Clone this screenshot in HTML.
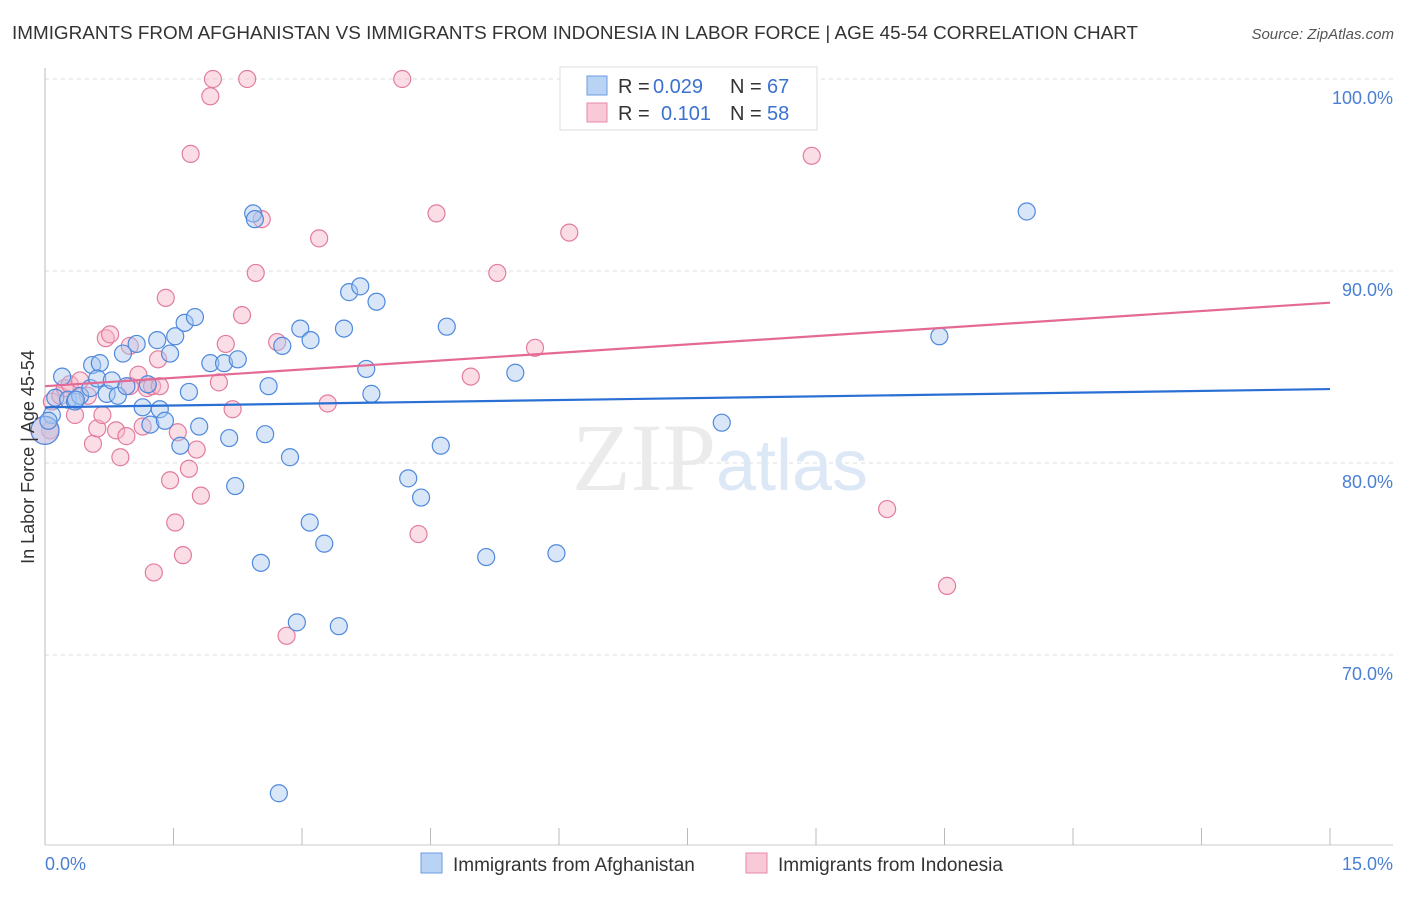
<!DOCTYPE html>
<html><head><meta charset="utf-8"><style>
body{margin:0;background:#fff;font-family:"Liberation Sans",sans-serif;}
</style></head><body>
<svg id="chart" width="1406" height="892" xmlns="http://www.w3.org/2000/svg" font-family="Liberation Sans, sans-serif">
<text x="12" y="39" font-size="18.5" fill="#333" textLength="1126" lengthAdjust="spacingAndGlyphs">IMMIGRANTS FROM AFGHANISTAN VS IMMIGRANTS FROM INDONESIA IN LABOR FORCE | AGE 45-54 CORRELATION CHART</text>
<text x="1394" y="39" font-size="15" fill="#555" text-anchor="end" font-style="italic">Source: ZipAtlas.com</text>
<g id="grid"></g>
<text x="720" y="490" font-size="96" text-anchor="middle" fill="#ebebeb" font-family="Liberation Serif, serif">ZIP<tspan fill="#dde8f6" font-family="Liberation Sans, sans-serif" font-size="72">atlas</tspan></text>
<g id="points"></g>
<g id="lines"></g>
<text transform="translate(34,457) rotate(-90)" font-size="18" fill="#333" text-anchor="middle">In Labor Force | Age 45-54</text>
<text x="45" y="870" font-size="18" fill="#4a7fd4">0.0%</text>
<text x="1393" y="870" font-size="18" fill="#4a7fd4" text-anchor="end">15.0%</text>
<g>
<rect x="560" y="67" width="257" height="63" fill="#fff" stroke="#ddd"/>
<rect x="587" y="76" width="20" height="19" fill="#b9d3f5" stroke="#6a9be0"/>
<rect x="587" y="103" width="20" height="19" fill="#f9c9d8" stroke="#e88aa8"/>
<text x="618" y="93" font-size="20" fill="#333">R =</text>
<text x="653" y="93" font-size="20" fill="#3b72d0">0.029</text>
<text x="730" y="93" font-size="20" fill="#333">N =</text>
<text x="767" y="93" font-size="20" fill="#3b72d0">67</text>
<text x="618" y="120" font-size="20" fill="#333">R =</text>
<text x="661" y="120" font-size="20" fill="#3b72d0">0.101</text>
<text x="730" y="120" font-size="20" fill="#333">N =</text>
<text x="767" y="120" font-size="20" fill="#3b72d0">58</text>
</g>
<g>
<rect x="421" y="853" width="21" height="20" fill="#b9d3f5" stroke="#6a9be0"/>
<text x="453" y="871" font-size="19" fill="#333">Immigrants from Afghanistan</text>
<rect x="746" y="853" width="21" height="20" fill="#f9c9d8" stroke="#e88aa8"/>
<text x="778" y="871" font-size="19" fill="#333">Immigrants from Indonesia</text>
</g>
</svg>
<script>
const blueX=[0.08,0.2,0.12,0.27,0.35,0.41,0.53,0.55,0.64,0.61,0.72,0.78,0.85,0.91,0.95,1.07,1.14,1.2,1.23,1.31,1.34,1.4,1.46,1.52,1.58,1.63,1.68,1.75,1.8,1.93,2.09,2.15,2.22,2.25,2.43,2.45,2.52,2.57,2.61,2.77,2.86,2.94,2.98,3.09,3.1,3.26,3.43,3.49,3.55,3.68,3.75,3.81,3.87,4.24,4.39,4.62,4.69,5.15,5.49,5.97,7.9,10.44,11.46,2.73,0,0.04,0.36];
const blueY=[82.5,84.5,83.4,83.3,83.2,83.5,83.9,85.1,85.2,84.4,83.6,84.3,83.5,85.7,84.0,86.2,82.9,84.1,82.0,86.4,82.8,82.2,85.7,86.6,80.9,87.3,83.7,87.6,81.9,85.2,85.2,81.3,78.8,85.4,93.0,92.7,74.8,81.5,84.0,86.1,80.3,71.7,87.0,76.9,86.4,75.8,71.5,87.0,88.9,89.2,84.9,83.6,88.4,79.2,78.2,80.9,87.1,75.1,84.7,75.3,82.1,86.6,93.1,62.8,81.7,82.2,83.3];
const pinkX=[0.08,0.06,0.18,0.23,0.29,0.35,0.41,0.5,0.56,0.61,0.67,0.71,0.76,0.83,0.88,0.95,0.99,1.09,1.14,1.19,1.25,1.27,1.32,1.41,1.46,1.52,1.55,1.61,1.68,1.7,1.77,1.82,1.93,1.96,2.03,2.11,2.19,2.3,2.36,2.46,2.53,2.71,2.82,3.2,3.3,4.17,4.36,4.57,4.97,5.28,5.72,6.12,8.95,9.83,10.53,0,0.99,1.34];
const pinkY=[83.2,81.7,83.5,83.9,84.1,82.5,84.3,83.5,81.0,81.8,82.5,86.5,86.7,81.7,80.3,81.4,86.1,84.6,81.9,83.9,84.0,74.3,85.4,88.6,79.1,76.9,81.6,75.2,79.7,96.1,80.7,78.3,99.1,100.0,84.2,86.2,82.8,87.7,100.0,89.9,92.7,86.3,71.0,91.7,83.1,100.0,76.3,93.0,84.5,89.9,86.0,92.0,96.0,77.6,73.6,81.7,84.0,84.0];
const axisXMax=15;
const yTicks=[100,90,80,70];
const yTickLabels=["100.0%","90.0%","80.0%","70.0%"];
const blueTrend=[82.9,83.85];
const pinkTrend=[84.0,88.35];
const X0=45,X1=1330;
const sx=v=>X0+v/axisXMax*(X1-X0);
const sy=v=>79+(100-v)*19.2;
const NS="http://www.w3.org/2000/svg";
function mk(t,a,p){const e=document.createElementNS(NS,t);for(const k in a)e.setAttribute(k,a[k]);p.appendChild(e);return e;}
const grid=document.getElementById('grid');
yTicks.forEach((t,i)=>{
 const l=mk('line',{x1:45,x2:1393,y1:sy(t),y2:sy(t),stroke:'#ddd','stroke-dasharray':'4,4'},grid);
 
 
 const tx=mk('text',{x:1393,y:sy(t)+25,'font-size':18,fill:'#4a7fd4','text-anchor':'end'},grid);
 tx.textContent=yTickLabels[i];
 
 
});
const ax=mk('line',{x1:45,x2:45,y1:68,y2:845,stroke:'#bbb'},grid);


const bx=mk('line',{x1:45,x2:1393,y1:845,y2:845,stroke:'#ccc'},grid);


for(let i=0;i<=10;i++){
 const t=mk('line',{x1:sx(i*1.5),x2:sx(i*1.5),y1:828,y2:845,stroke:'#bbb'},grid);
 
 
}
const pts=document.getElementById('points');
function draw(xs,ys,fill,stroke,name){
 xs.forEach((x,i)=>{
  const r=(x===0)?14:8.5;
  const c=mk('circle',{cx:sx(x),cy:sy(ys[i]),r:r,fill:fill,'fill-opacity':0.45,stroke:stroke,'stroke-width':1.2},pts);
  
  
 });
}
draw(pinkX,pinkY,'#f6b3c8','#e27c9f','indonesia-point');
draw(blueX,blueY,'#a9c8f0','#4f89dd','afghanistan-point');
const ln=document.getElementById('lines');
const b=mk('line',{x1:sx(0),x2:sx(15),y1:sy(blueTrend[0]),y2:sy(blueTrend[1]),stroke:'#2a6fd4','stroke-width':2.2},ln);


const p=mk('line',{x1:sx(0),x2:sx(15),y1:sy(pinkTrend[0]),y2:sy(pinkTrend[1]),stroke:'#e46a95','stroke-width':2.2},ln);


</script>
</body></html>
